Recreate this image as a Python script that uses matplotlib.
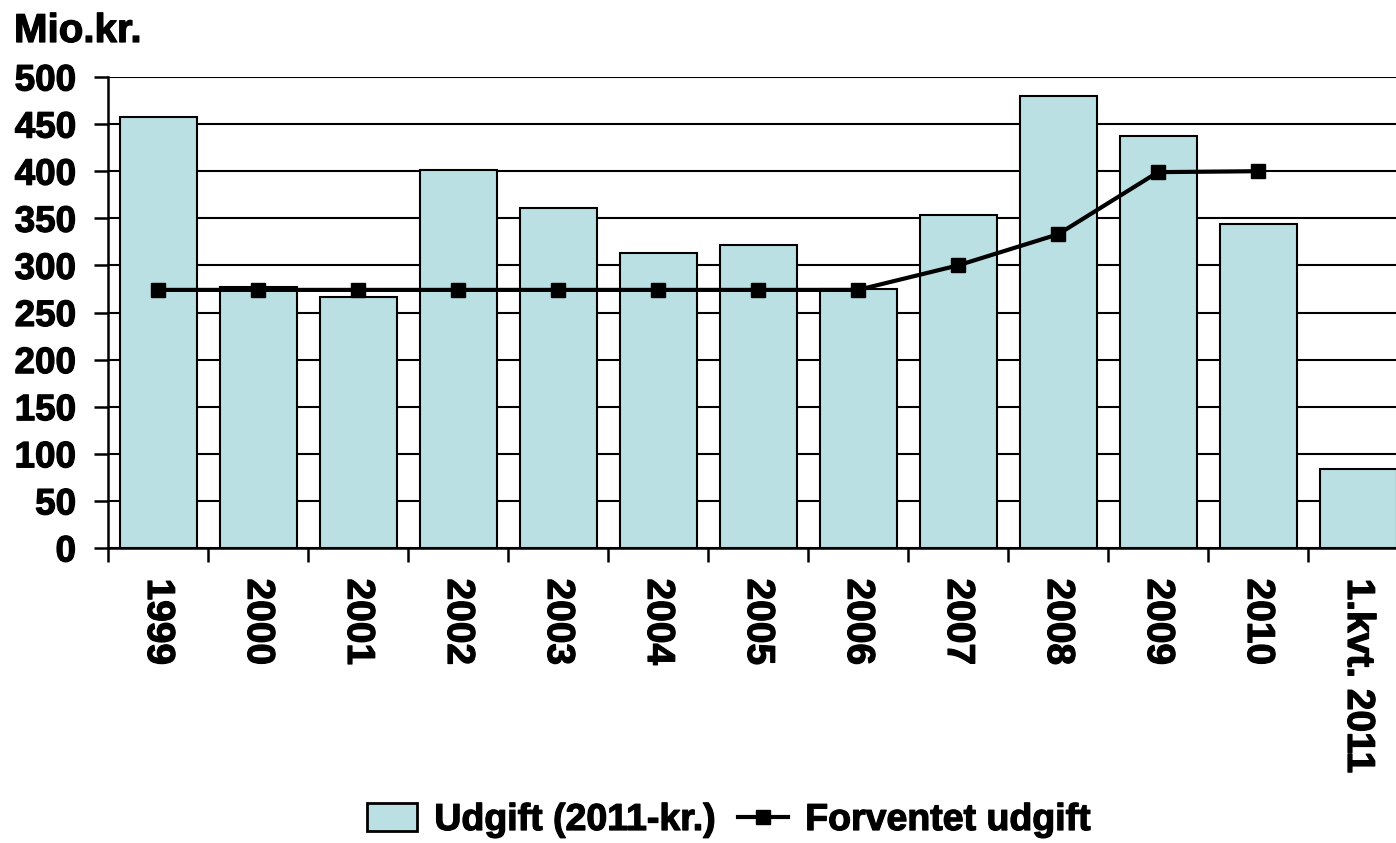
import numpy as np
import matplotlib.pyplot as plt
import matplotlib.patheffects as pe

plt.rcParams['font.family'] = ['Liberation Sans', 'DejaVu Sans']
plt.rcParams['font.weight'] = 'bold'

categories = ['1999', '2000', '2001', '2002', '2003', '2004', '2005',
              '2006', '2007', '2008', '2009', '2010', '1.kvt. 2011']
udgift = [458, 277, 266, 401, 361, 313, 322, 275, 353, 480, 437, 344, 84]
forventet = [274, 274, 274, 274, 274, 274, 274, 274, 300, 333, 399, 400]

W, H = 1396, 843
fig = plt.figure(figsize=(W / 100, H / 100), dpi=100)
ax = fig.add_axes([108 / W, (H - 548) / H, 1300 / W, 471 / H])

heavy = [pe.withStroke(linewidth=0.9, foreground='black')]

x = np.arange(len(categories))
bars = ax.bar(x, udgift, width=0.77, color='#BBE0E3', edgecolor='black', linewidth=1.5,
              label='Udgift (2011-kr.)', zorder=2)
line, = ax.plot(x[:len(forventet)], forventet, color='black', lw=3, marker='s',
                markersize=10, label='Forventet udgift', zorder=3)

ax.set_xlim(-0.5, len(categories) - 0.5)
ax.set_ylim(0, 500)
ax.set_yticks(np.arange(0, 501, 50))
ax.yaxis.grid(True, color='black', lw=1.5)
ax.set_axisbelow(True)
for s in ['top', 'right']:
    ax.spines[s].set_visible(False)
for s in ['left', 'bottom']:
    ax.spines[s].set_linewidth(1.8)

ax.set_xticks(x)
ax.set_xticklabels(categories, rotation=-90, va='top', ha='center')
ax.tick_params(axis='x', which='major', length=0, pad=22, labelsize=28)
ax.set_xticks(np.arange(len(categories) + 1) - 0.5, minor=True)
ax.tick_params(axis='x', which='minor', length=10, width=1.8)
ax.tick_params(axis='y', length=10, width=1.8, labelsize=26.5, pad=13)
for t in ax.get_xticklabels() + ax.get_yticklabels():
    t.set_path_effects(heavy)

fig.text(14 / W, 1 - 42 / H, 'Mio.kr.', fontsize=29, fontweight='bold',
         path_effects=heavy)

leg = fig.legend([bars, line], ['Udgift (2011-kr.)', 'Forventet udgift'],
                 loc='center', bbox_to_anchor=(0.522, 1 - 820 / H), ncol=2,
                 frameon=False, fontsize=27, handlelength=1.35, handleheight=0.75,
                 columnspacing=0.6, handletextpad=0.45)
for t in leg.get_texts():
    t.set_path_effects(heavy)
leg.legend_handles[0].set_linewidth(2)

fig.savefig('out.png', dpi=100)
